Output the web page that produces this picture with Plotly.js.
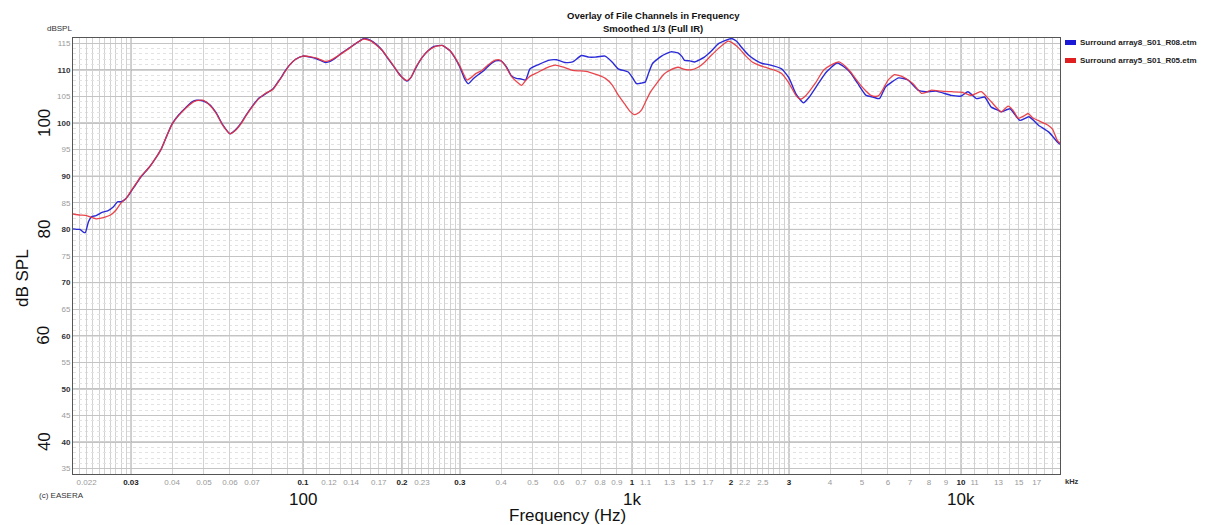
<!DOCTYPE html>
<html>
<head>
<meta charset="utf-8">
<script src="https://cdn.plot.ly/plotly-3.0.1.min.js"></script>
<style>
  html, body { margin: 0; padding: 0; background: #ffffff; }
  #chart { width: 1208px; height: 525px; }
</style>
</head>
<body>
<div id="chart"></div>
<script>
// ---------------- DATA ----------------
const seriesNames = ["Surround array8_S01_R08.etm", "Surround array5_S01_R05.etm"];

const freqBlue = [20, 20.5, 21, 21.5, 21.8, 22.3, 22.8, 23.5, 24.5, 25.5, 26.5, 27.3, 28, 28.6, 29.5, 30,
  31, 32.2, 34, 36, 37, 38.5, 40, 42, 44, 46, 47.5, 49.5, 52, 54.5, 57, 60, 62.5, 65, 67, 70, 73.5, 77, 81, 85,
  88.5, 91, 95, 100, 105, 110, 117, 121, 126, 132, 138, 145, 153, 160, 167, 174, 180, 187, 194, 200, 207, 213,
  220, 230, 240, 250, 265, 280, 290, 300, 310, 318, 330, 341, 355, 370, 385, 400, 415, 430, 445, 460, 475, 490,
  520, 557, 590, 625, 660, 702, 740, 773, 828, 870, 908, 974, 1005, 1033, 1065, 1097, 1125, 1155, 1230, 1313,
  1380, 1420, 1445, 1500, 1550, 1660, 1740, 1830, 2005, 2080, 2150, 2260, 2380, 2490, 2600, 2850, 3000, 3150,
  3320, 3450, 3700, 3900, 4200, 4450, 4620, 4850, 5150, 5400, 5650, 5900, 6470, 6900, 7400, 7800, 8400, 9350,
  10020, 10500, 11150, 11800, 12360, 13000, 13260, 14100, 15100, 16100, 17200, 18500, 19600, 20000];
const dbBlue = [80.1, 80.0, 80.0, 79.5, 79.4, 81.5, 82.4, 82.6, 83.2, 83.5, 84.2, 85.2, 85.2, 85.5, 86.4, 87.1,
  88.4, 89.9, 91.6, 93.8, 95.0, 97.5, 99.8, 101.6, 102.9, 104.0, 104.3, 104.2, 103.5, 101.9, 99.7, 98.0, 98.8,
  100.1, 101.4, 103.1, 104.7, 105.5, 106.4, 108.2, 109.9, 110.9, 112.0, 112.6, 112.4, 112.1, 111.4, 111.6, 112.3,
  113.3, 114.1, 115.0, 115.9, 115.6, 114.8, 113.7, 112.4, 111.0, 109.6, 108.6, 107.9, 108.6, 110.3, 112.3, 113.6,
  114.4, 114.6, 113.6, 112.2, 110.5, 108.3, 107.4, 108.4, 109.1, 109.9, 111.0, 111.7, 111.7, 110.6, 108.9, 108.4,
  108.3, 108.1, 110.2, 111.0, 111.8, 111.9, 111.4, 111.5, 112.7, 112.4, 112.4, 112.6, 111.5, 110.2, 109.6, 108.5,
  107.4, 107.5, 107.7, 109.5, 111.2, 112.6, 113.4, 113.2, 112.5, 111.8, 111.7, 111.5, 112.4, 113.5, 114.9, 115.9,
  115.4, 114.3, 112.8, 111.8, 111.2, 111.0, 110.2, 108.5, 105.5, 103.8, 104.8, 107.6, 109.6, 111.3, 110.4, 109.4,
  107.5, 105.2, 104.9, 104.6, 106.8, 108.5, 108.1, 106.2, 105.9, 106.0, 105.2, 105.1, 105.9, 104.6, 104.9, 103.0,
  102.4, 102.1, 102.7, 100.5, 101.2, 99.6, 98.3, 96.5, 96.0];

const freqRed = [20, 21, 22, 23.5, 25, 26, 27, 28, 29, 30, 31, 32.2, 34, 36, 37, 38.5, 40, 42, 44, 46, 47.5, 49.5,
  52, 54.5, 57, 60, 62.5, 65, 67, 70, 73.5, 77, 81, 85, 88.5, 91, 95, 100, 105, 110, 117, 121, 126, 132, 138, 145,
  153, 160, 167, 174, 180, 187, 194, 200, 207, 213, 220, 230, 240, 250, 265, 280, 290, 300, 315, 325, 335, 350,
  365, 380, 395, 410, 430, 450, 462, 475, 490, 520, 550, 585, 620, 660, 700, 740, 790, 830, 870, 910, 950, 990,
  1015, 1040, 1070, 1100, 1140, 1200, 1250, 1310, 1380, 1445, 1510, 1590, 1660, 1740, 1830, 1960, 2050, 2120,
  2220, 2320, 2430, 2540, 2700, 2850, 3000, 3150, 3250, 3380, 3600, 3830, 4050, 4250, 4450, 4620, 4800, 4960,
  5150, 5330, 5500, 5650, 5800, 5990, 6280, 6660, 7150, 7580, 7850, 8130, 8720, 9350, 10020, 10400, 10750,
  11150, 11530, 12360, 13260, 13900, 14400, 14920, 15500, 16000, 16500, 17150, 18400, 19000, 19600, 20000];
const dbRed = [82.9, 82.7, 82.6, 82.0, 82.3, 82.7, 83.6, 85.0, 85.8, 87.2, 88.5, 90.0, 91.6, 93.8, 95.0, 97.5,
  99.8, 101.5, 102.8, 103.8, 104.2, 104.3, 103.4, 101.8, 99.6, 98.0, 98.7, 100.0, 101.3, 103.0, 104.6, 105.6,
  106.3, 108.1, 109.8, 110.9, 112.0, 112.6, 112.5, 112.2, 111.6, 111.8, 112.4, 113.2, 114.0, 115.0, 115.8, 115.5,
  114.7, 113.7, 112.5, 111.1, 109.6, 108.6, 108.0, 108.6, 110.4, 112.3, 113.6, 114.3, 114.6, 113.6, 112.3, 110.7,
  108.1, 108.6, 109.3, 109.9, 110.9, 111.7, 111.9, 111.0, 108.8, 107.6, 107.1, 108.0, 108.8, 109.6, 110.4, 110.9,
  110.5, 109.9, 109.8, 109.6, 109.0, 108.4, 107.2, 105.2, 103.6, 102.1, 101.6, 101.8, 102.5, 104.0, 105.9, 107.8,
  109.2, 110.0, 110.5, 110.1, 110.0, 110.5, 111.4, 112.7, 114.0, 115.4, 114.8, 114.0, 112.6, 111.5, 110.9, 110.5,
  110.0, 109.3, 107.5, 105.2, 104.5, 105.2, 107.4, 110.0, 111.0, 111.5, 110.7, 109.6, 108.2, 107.1, 106.0, 105.2,
  105.0, 105.3, 106.4, 108.0, 109.1, 108.7, 107.4, 105.6, 105.8, 106.2, 106.0, 105.9, 105.8, 105.5, 105.2, 105.6,
  105.9, 104.0, 102.1, 103.2, 102.4, 100.9, 101.3, 101.8, 101.0, 100.5, 99.6, 98.8, 96.8, 96.2];

// tick labels (kHz) as printed under the axis
const xTickKHz = [0.022, 0.03, 0.04, 0.05, 0.06, 0.07, 0.1, 0.12, 0.14, 0.17, 0.2, 0.23, 0.3, 0.4, 0.5, 0.6, 0.7,
  0.8, 0.9, 1, 1.1, 1.3, 1.5, 1.7, 2, 2.2, 2.5, 3, 4, 5, 6, 7, 8, 9, 10, 11, 13, 15, 17];
const xMajorKHz = [0.03, 0.1, 0.2, 0.3, 1, 2, 3, 10];
const yTicks = [35, 40, 45, 50, 55, 60, 65, 70, 75, 80, 85, 90, 95, 100, 105, 110, 115];
const yMajor = [40, 50, 60, 70, 80, 90, 100, 110];
const bigXLabels = ["100", "1k", "10k"];
const bigXValues = [100, 1000, 10000];
const bigYValues = [100, 80, 60, 40];

// ---------------- LAYOUT HELPERS ----------------
const W = 1208, H = 525;
const L = 73, R = 1060, T = 38, B = 474;
const px = x => (x - L) / (R - L);
const py = y => (B - y) / (B - T);
const FONT = "Arial, 'Liberation Sans', Helvetica, sans-serif";

// grid frequencies
const gridMant = [];
for (let m = 10; m < 30; m++) gridMant.push(m / 10);
[3, 4, 5, 6, 7, 8, 9].forEach(m => gridMant.push(m));
const gridFreqs = [];
[10, 100, 1000, 10000].forEach(d => gridMant.forEach(m => {
  const f = Math.round(m * d * 1000) / 1000;
  if (f >= 20 && f <= 20000) gridFreqs.push(f);
}));

const isMajorX = k => xMajorKHz.some(v => Math.abs(v - k) < 1e-9);
const xTickVals = xTickKHz.map(k => k * 1000);
const xTickText = xTickKHz.map(k => isMajorX(k)
  ? "<span style='color:#222'><b>" + k + "</b></span>"
  : "<span style='color:#9a9a9a'>" + k + "</span>");
const yTickText = yTicks.map(v => yMajor.includes(v)
  ? "<span style='color:#333'><b>" + v + "</b></span>"
  : "<span style='color:#9a9a9a'>" + v + "</span>");

const shapes = [];
// darker major gridlines
xMajorKHz.forEach(k => shapes.push({type: 'line', layer: 'below', xref: 'x', yref: 'paper',
  x0: k * 1000, x1: k * 1000, y0: 0, y1: 1, line: {color: '#8c8c8c', width: 1}}));
yMajor.forEach(v => shapes.push({type: 'line', layer: 'below', xref: 'paper', yref: 'y',
  x0: 0, x1: 1, y0: v, y1: v, line: {color: '#8c8c8c', width: 1}}));
// legend swatches
const swatchColors = ['#1a1ad6', '#e02020'];
const swatchY = [[40, 45], [58, 63]];
swatchColors.forEach((c, i) => shapes.push({type: 'rect', xref: 'paper', yref: 'paper',
  x0: px(1065), x1: px(1076), y0: py(swatchY[i][1]), y1: py(swatchY[i][0]),
  line: {width: 0}, fillcolor: c}));

const annotations = [];
const ann = (o) => annotations.push(Object.assign({showarrow: false, xref: 'paper', yref: 'paper'}, o));
ann({text: "<b>Overlay of File Channels in Frequency</b>", x: px(653), y: py(15), xanchor: 'center', yanchor: 'middle',
  font: {family: FONT, size: 9.5, color: '#111'}});
ann({text: "<b>Smoothed 1/3 (Full IR)</b>", x: px(653), y: py(29), xanchor: 'center', yanchor: 'middle',
  font: {family: FONT, size: 9.5, color: '#111'}});
ann({text: "dBSPL", x: px(59), y: py(29), xanchor: 'center', yanchor: 'middle',
  font: {family: FONT, size: 8, color: '#333'}});
ann({text: "(c) EASERA", x: px(37), y: py(495), xanchor: 'left', yanchor: 'middle',
  font: {family: FONT, size: 8, color: '#333'}});
ann({text: "<b>kHz</b>", x: px(1063), y: py(481), xanchor: 'left', yanchor: 'middle',
  font: {family: FONT, size: 7.5, color: '#333'}});
seriesNames.forEach((n, i) => ann({text: "<b>" + n + "</b>", x: px(1078), y: py((swatchY[i][0] + swatchY[i][1]) / 2),
  xanchor: 'left', yanchor: 'middle', font: {family: FONT, size: 8, color: '#222'}}));
bigXLabels.forEach((t, i) => annotations.push({showarrow: false, xref: 'x', yref: 'paper',
  x: Math.log10(bigXValues[i]), y: py(499), xanchor: 'center', yanchor: 'middle', text: t,
  font: {family: FONT, size: 17, color: '#111'}}));
ann({text: "Frequency (Hz)", x: px(567), y: py(515), xanchor: 'center', yanchor: 'middle',
  font: {family: FONT, size: 17, color: '#111'}});
bigYValues.forEach(v => annotations.push({showarrow: false, xref: 'paper', yref: 'y',
  x: px(44), y: v, xanchor: 'center', yanchor: 'middle', textangle: -90, text: String(v),
  font: {family: FONT, size: 17, color: '#111'}}));
ann({text: "dB SPL", x: px(22), y: py(278), xanchor: 'center', yanchor: 'middle', textangle: -90,
  font: {family: FONT, size: 17, color: '#111'}});

const traces = [
  {x: freqBlue, y: dbBlue, name: seriesNames[0], type: 'scatter', mode: 'lines',
   line: {color: '#2a2ad8', width: 1.4, shape: 'spline', smoothing: 0.5}, showlegend: false, hoverinfo: 'skip'},
  {x: freqRed, y: dbRed, name: seriesNames[1], type: 'scatter', mode: 'lines', opacity: 0.9,
   line: {color: '#e8323a', width: 1.3, shape: 'spline', smoothing: 0.5}, showlegend: false, hoverinfo: 'skip'}
];

const layout = {
  width: W, height: H,
  margin: {l: L, r: W - R, t: T, b: H - B, pad: 0},
  paper_bgcolor: '#ffffff', plot_bgcolor: '#ffffff',
  showlegend: false,
  font: {family: FONT, size: 8, color: '#333'},
  xaxis: {
    type: 'log', range: [Math.log10(20), Math.log10(20000)], autorange: false,
    tickmode: 'array', tickvals: xTickVals, ticktext: xTickText, ticks: '',
    tickfont: {family: FONT, size: 8},
    showgrid: true, gridcolor: '#d2d2d2', gridwidth: 1,
    minor: {tickmode: 'array', tickvals: gridFreqs, showgrid: true, gridcolor: '#d2d2d2', gridwidth: 1, ticks: ''},
    showline: true, mirror: true, linecolor: '#555', linewidth: 1, zeroline: false, automargin: false
  },
  yaxis: {
    range: [34, 116], autorange: false,
    tickmode: 'array', tickvals: yTicks, ticktext: yTickText, ticks: '',
    tickfont: {family: FONT, size: 8},
    showgrid: true, gridcolor: '#c4c4c4', gridwidth: 1,
    minor: {dtick: 1, tick0: 0, showgrid: true, gridcolor: '#e2e2e2', gridwidth: 1, griddash: 'dot', ticks: ''},
    showline: true, mirror: true, linecolor: '#555', linewidth: 1, zeroline: false, automargin: false
  },
  shapes: shapes,
  annotations: annotations
};

Plotly.newPlot('chart', traces, layout, {staticPlot: true, displayModeBar: false});
</script>
</body>
</html>
